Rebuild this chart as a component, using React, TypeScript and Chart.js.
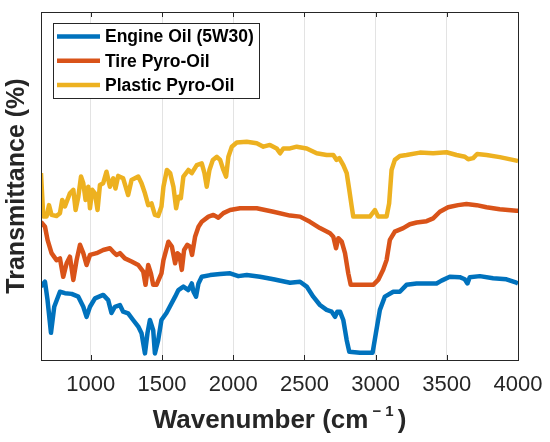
import React, { useEffect, useRef } from 'react';
import { Chart, registerables } from 'chart.js';

Chart.register(...registerables);

const FONT = '"Liberation Sans", Arial, sans-serif';

// x axis ticks (cm^-1)
const xTicks = [1000, 1500, 2000, 2500, 3000, 3500, 4000];

// Engine Oil (5W30)
const engineWn = [650, 678, 696, 720, 743, 783, 818, 865, 912, 947, 970, 994, 1029, 1087, 1122, 1145, 1169, 1204, 1227, 1262, 1297, 1333, 1356, 1380, 1398, 1415, 1438, 1450, 1473, 1496, 1531, 1592, 1615, 1650, 1685, 1709, 1721, 1739, 1756, 1779, 1838, 1908, 1978, 2036, 2095, 2188, 2282, 2399, 2469, 2516, 2562, 2609, 2656, 2691, 2715, 2731, 2750, 2773, 2797, 2815, 2890, 2979, 3002, 3030, 3065, 3124, 3170, 3217, 3288, 3428, 3463, 3521, 3591, 3626, 3645, 3661, 3732, 3825, 3919, 3989, 4000];
const engineT = [21.1, 22.5, 17.2, 7.8, 15.3, 19.6, 19.2, 19.0, 18.2, 15.3, 12.4, 15.3, 17.7, 18.7, 17.2, 13.5, 15.3, 15.8, 13.9, 13.4, 11.5, 9.6, 7.7, 1.9, 7.8, 11.5, 8.6, 1.9, 5.7, 11.5, 13.5, 18.2, 20.1, 21.1, 20.1, 22.0, 19.6, 18.2, 22.0, 23.9, 24.4, 24.7, 24.9, 24.1, 24.4, 23.9, 23.2, 22.2, 22.5, 21.1, 18.2, 15.8, 14.4, 13.9, 12.4, 13.9, 13.9, 11.5, 5.7, 2.4, 2.1, 2.1, 7.7, 14.4, 18.2, 19.6, 19.6, 21.6, 22.0, 22.0, 22.8, 23.9, 23.8, 23.2, 22.0, 23.8, 24.1, 23.5, 23.2, 22.2, 22.0];

// Tire Pyro-Oil
const tireWn = [650, 678, 696, 724, 759, 783, 806, 830, 853, 877, 900, 924, 947, 970, 994, 1040, 1087, 1134, 1157, 1180, 1204, 1239, 1286, 1333, 1368, 1384, 1403, 1422, 1438, 1461, 1496, 1510, 1545, 1569, 1592, 1608, 1622, 1639, 1655, 1678, 1697, 1711, 1732, 1756, 1779, 1826, 1861, 1896, 1931, 1978, 2048, 2165, 2282, 2399, 2469, 2539, 2609, 2680, 2703, 2722, 2738, 2762, 2785, 2808, 2825, 2983, 3018, 3053, 3077, 3100, 3135, 3194, 3240, 3288, 3358, 3404, 3451, 3509, 3579, 3638, 3709, 3779, 3872, 3989, 4000];
const tireT = [39.7, 38.3, 34.5, 30.7, 28.7, 29.2, 23.9, 27.8, 29.7, 23.0, 28.7, 33.1, 30.7, 27.3, 30.2, 30.7, 31.6, 32.1, 31.1, 30.2, 30.7, 29.2, 28.3, 27.3, 25.4, 21.6, 27.3, 24.9, 21.6, 21.6, 24.9, 28.7, 34.0, 32.6, 27.8, 30.7, 30.2, 25.9, 31.6, 33.1, 32.6, 30.2, 35.4, 38.3, 39.7, 41.2, 41.7, 40.9, 42.2, 43.1, 43.6, 43.6, 42.6, 41.5, 41.2, 39.7, 37.9, 36.4, 35.4, 32.1, 35.0, 34.0, 30.7, 24.9, 21.6, 21.6, 23.0, 25.9, 28.7, 34.5, 36.9, 37.9, 39.0, 39.5, 39.9, 40.7, 42.6, 43.9, 44.5, 44.8, 44.5, 43.9, 43.3, 42.9, 42.9];

// Plastic Pyro-Oil
const plasticWn = [650, 666, 689, 706, 724, 759, 783, 799, 818, 853, 877, 893, 912, 931, 947, 963, 982, 994, 1010, 1029, 1047, 1064, 1087, 1110, 1134, 1157, 1173, 1192, 1227, 1262, 1286, 1333, 1356, 1380, 1403, 1426, 1450, 1473, 1496, 1510, 1534, 1557, 1580, 1599, 1615, 1632, 1650, 1685, 1709, 1744, 1779, 1798, 1814, 1833, 1857, 1885, 1908, 1931, 1950, 1966, 1990, 2025, 2095, 2165, 2212, 2258, 2305, 2329, 2352, 2399, 2446, 2516, 2586, 2656, 2703, 2726, 2745, 2773, 2797, 2815, 2832, 2843, 2960, 2995, 3018, 3077, 3095, 3112, 3135, 3170, 3217, 3311, 3404, 3498, 3568, 3627, 3650, 3685, 3713, 3779, 3872, 3989, 4000];
const plasticT = [53.7, 41.2, 41.2, 44.5, 41.7, 41.4, 42.2, 46.0, 44.1, 47.9, 48.9, 43.1, 46.9, 52.7, 50.8, 46.0, 49.8, 43.6, 48.9, 47.9, 43.1, 50.3, 50.8, 54.1, 49.8, 52.2, 49.3, 52.9, 52.2, 47.4, 51.7, 52.7, 50.8, 47.9, 44.5, 45.0, 41.7, 41.4, 44.1, 49.8, 54.6, 53.7, 49.8, 43.6, 46.9, 46.5, 52.7, 54.6, 53.7, 56.0, 56.5, 53.7, 49.8, 54.6, 57.5, 58.4, 57.5, 54.6, 52.7, 58.4, 61.3, 62.5, 62.7, 62.3, 61.3, 61.8, 60.8, 59.4, 60.8, 60.8, 61.3, 60.8, 59.4, 58.9, 58.9, 57.5, 58.0, 56.0, 53.7, 48.9, 44.1, 41.2, 41.2, 43.1, 41.2, 41.2, 45.0, 54.6, 57.5, 58.6, 58.9, 59.6, 59.4, 59.7, 58.9, 58.4, 57.7, 58.0, 59.2, 58.9, 58.3, 57.3, 57.2];

const seriesLabels = ['Engine Oil (5W30)', 'Tire Pyro-Oil', 'Plastic Pyro-Oil'];
const seriesColors = ['#0072BD', '#D95319', '#EDB120'];

const toPoints = (xs: number[], ys: number[]) => xs.map((x, i) => ({ x, y: ys[i] }));

// box, inner ticks, x title with superscript and the legend box
const framePlugin = {
  id: 'frame',
  afterDraw(chart: any) {
    const { ctx, chartArea: a, scales } = chart;
    const xs = scales.x;
    ctx.save();
    ctx.strokeStyle = '#262626';
    ctx.lineWidth = 1;
    ctx.beginPath();
    xTicks.forEach((v) => {
      const px = Math.round(xs.getPixelForValue(v)) + 0.5;
      ctx.moveTo(px, a.bottom);
      ctx.lineTo(px, a.bottom - 5);
      ctx.moveTo(px, a.top);
      ctx.lineTo(px, a.top + 5);
    });
    ctx.stroke();
    ctx.strokeRect(Math.round(a.left) + 0.5, Math.round(a.top) + 0.5, Math.round(a.right - a.left), Math.round(a.bottom - a.top));

    // x axis title
    ctx.fillStyle = '#262626';
    ctx.textBaseline = 'alphabetic';
    ctx.textAlign = 'left';
    const main = 'Wavenumber (cm';
    const sup = '\u2212 1';
    const close = ')';
    ctx.font = `bold 26px ${FONT}`;
    const wMain = ctx.measureText(main).width;
    const wClose = ctx.measureText(close).width;
    ctx.font = `bold 15px ${FONT}`;
    const wSup = ctx.measureText(sup).width;
    const total = wMain + 4 + wSup + 4 + wClose;
    let x0 = (a.left + a.right) / 2 - total / 2;
    const base = 428;
    ctx.font = `bold 26px ${FONT}`;
    ctx.fillText(main, x0, base);
    x0 += wMain + 4;
    ctx.font = `bold 15px ${FONT}`;
    ctx.fillText(sup, x0, base - 12);
    x0 += wSup + 4;
    ctx.font = `bold 26px ${FONT}`;
    ctx.fillText(close, x0, base);

    // legend
    const lx = 53.5, ly = 23.5, lw = 206, lh = 75;
    ctx.fillStyle = '#ffffff';
    ctx.fillRect(lx, ly, lw, lh);
    ctx.strokeStyle = '#262626';
    ctx.lineWidth = 1;
    ctx.strokeRect(lx, ly, lw, lh);
    chart.data.datasets.forEach((ds: any, i: number) => {
      const y = 36.5 + i * 24.2;
      ctx.strokeStyle = ds.borderColor;
      ctx.lineWidth = 4.5;
      ctx.beginPath();
      ctx.moveTo(57, y);
      ctx.lineTo(100, y);
      ctx.stroke();
      ctx.fillStyle = '#000000';
      ctx.font = `bold 17.5px ${FONT}`;
      ctx.textBaseline = 'middle';
      ctx.fillText(ds.label, 105, y + 1);
    });
    ctx.restore();
  }
};

export default function App() {
  const canvasRef = useRef<HTMLCanvasElement>(null);

  useEffect(() => {
    if (!canvasRef.current) return;
    const chart = new Chart(canvasRef.current, {
      type: 'line',
      data: {
        datasets: [
          { label: seriesLabels[0], data: toPoints(engineWn, engineT), borderColor: seriesColors[0] },
          { label: seriesLabels[1], data: toPoints(tireWn, tireT), borderColor: seriesColors[1] },
          { label: seriesLabels[2], data: toPoints(plasticWn, plasticT), borderColor: seriesColors[2] }
        ].map((d) => ({ ...d, borderWidth: 4.5, pointRadius: 0, tension: 0, fill: false, borderJoinStyle: 'round' as const }))
      },
      options: {
        animation: false,
        responsive: true,
        maintainAspectRatio: false,
        layout: { padding: { top: 12, right: 32, left: 0, bottom: 0 } },
        plugins: {
          legend: { display: false },
          tooltip: { enabled: false }
        },
        scales: {
          x: {
            type: 'linear',
            min: 650,
            max: 4000,
            afterBuildTicks: (scale: any) => {
              scale.ticks = xTicks.map((v) => ({ value: v }));
            },
            afterFit: (scale: any) => {
              scale.height = 82;
              scale.paddingRight = 0;
              scale.paddingLeft = 0;
            },
            grid: { color: '#e3e3e3', lineWidth: 1, drawTicks: false },
            border: { display: false },
            ticks: {
              color: '#262626',
              padding: 12,
              maxRotation: 0,
              font: { family: FONT, size: 22 },
              callback: (v: any) => String(v)
            }
          },
          y: {
            min: 0,
            max: 100,
            afterFit: (scale: any) => {
              scale.width = 41;
            },
            grid: { display: false },
            border: { display: false },
            ticks: { display: false },
            title: {
              display: true,
              text: 'Transmittance (%)',
              color: '#262626',
              padding: { top: 2, bottom: 0 },
              font: { family: FONT, size: 25, weight: 'bold' }
            }
          }
        }
      },
      plugins: [framePlugin]
    });
    return () => chart.destroy();
  }, []);

  return (
    <div style={{ position: 'absolute', left: 0, top: 0, width: 550, height: 442, background: '#ffffff' }}>
      <canvas ref={canvasRef}></canvas>
    </div>
  );
}
